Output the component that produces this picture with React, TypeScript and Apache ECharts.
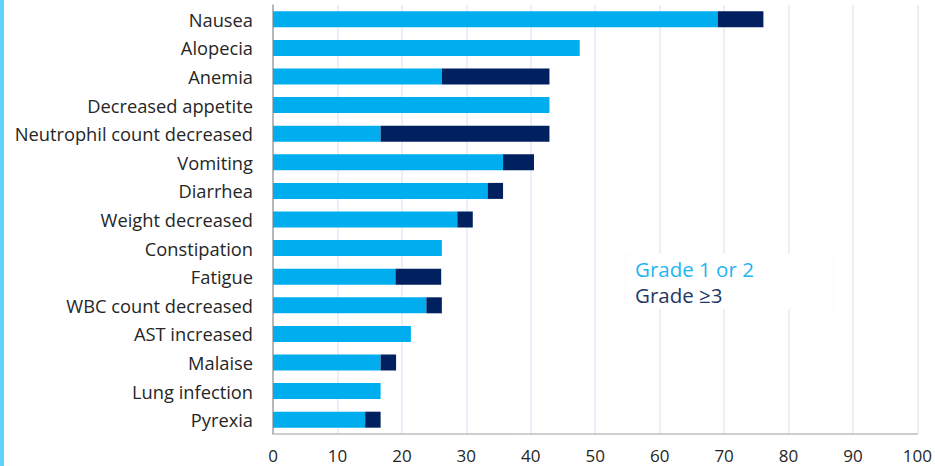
import React, { useEffect, useRef } from "react";
import * as echarts from "echarts";

const categories = [
  "Nausea",
  "Alopecia",
  "Anemia",
  "Decreased appetite",
  "Neutrophil count decreased",
  "Vomiting",
  "Diarrhea",
  "Weight decreased",
  "Constipation",
  "Fatigue",
  "WBC count decreased",
  "AST increased",
  "Malaise",
  "Lung infection",
  "Pyrexia",
];

const grade12 = [69.0, 47.6, 26.2, 42.9, 16.7, 35.7, 33.3, 28.6, 26.2, 19.0, 23.8, 21.4, 16.7, 16.7, 14.3];
const grade3plus = [7.1, 0, 16.7, 0, 26.2, 4.8, 2.4, 2.4, 0, 7.1, 2.4, 0, 2.4, 0, 2.4];

const xTicks = { min: 0, max: 100, interval: 10 };

const LIGHT = "#00AEEF";
const DARK = "#002060";
const FONT = "Open Sans";

export default function App() {
  const ref = useRef<HTMLDivElement>(null);
  useEffect(() => {
    if (!ref.current) return;
    const chart = echarts.init(ref.current, null, { renderer: "svg" });
    const cats = [...categories].reverse();
    const g12 = [...grade12].reverse();
    const g3 = [...grade3plus].reverse();
    chart.setOption({
      animation: false,
      grid: { left: 273, right: 17, top: 5, bottom: 32, containLabel: false },
      xAxis: {
        type: "value",
        min: xTicks.min,
        max: xTicks.max,
        interval: xTicks.interval,
        axisLine: { show: true, lineStyle: { color: "#BFBFBF", width: 1.5 } },
        axisTick: { show: false },
        splitLine: { show: true, lineStyle: { color: "#E3EAF6", width: 1.5 } },
        axisLabel: { color: "#262626", fontFamily: FONT, fontSize: 17, margin: 13 },
      },
      yAxis: {
        type: "category",
        data: cats,
        axisLine: { show: true, lineStyle: { color: "#A6A6A6", width: 1.5 } },
        axisTick: { show: false },
        axisLabel: { color: "#262626", fontFamily: FONT, fontSize: 18.3, margin: 20 },
      },
      legend: {
        left: 626,
        top: 254,
        orient: "vertical",
        icon: "none",
        itemWidth: 0,
        itemHeight: 0,
        itemGap: 5,
        padding: [4, 80, 4, 4],
        backgroundColor: "#FFFFFF",
        borderColor: "#FBFBFB",
        borderWidth: 1,
        selectedMode: false,
        textStyle: { fontFamily: FONT, fontSize: 20.5, padding: 0 },
        data: [
          { name: "Grade 1 or 2", textStyle: { color: "#1FB5EF" } },
          { name: "Grade ≥3", textStyle: { color: "#1F3864" } },
        ],
      },
      series: [
        {
          name: "Grade 1 or 2",
          type: "bar",
          stack: "total",
          data: g12,
          barWidth: 16,
          itemStyle: { color: LIGHT },
        },
        {
          name: "Grade ≥3",
          type: "bar",
          stack: "total",
          data: g3,
          barWidth: 16,
          itemStyle: { color: DARK },
        },
      ],
      graphic: [
        {
          type: "rect",
          left: 0,
          top: 0,
          shape: { x: 0, y: 0, width: 4, height: 466 },
          style: { fill: "#5DD3FF" },
        },
      ],
    });
    return () => chart.dispose();
  }, []);
  return (
    <div
      ref={ref}
      style={{ position: "fixed", left: 0, top: 0, width: 935, height: 466, background: "#fff" }}
    />
  );
}
